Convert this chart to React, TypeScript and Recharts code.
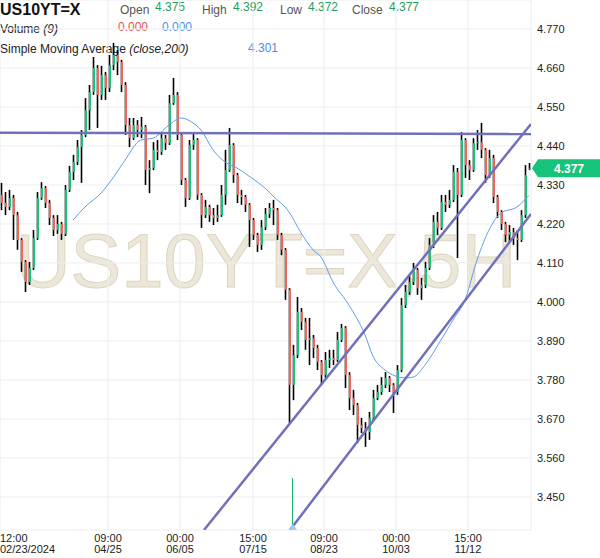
import React from "react";
import {
  ComposedChart,
  Bar,
  Line,
  Scatter,
  XAxis,
  YAxis,
  CartesianGrid,
  ReferenceLine,
} from "recharts";

// 5H candles, US10YT=X (one candle every ~4px)
const opens = [
  4.302, 4.279, 4.268, 4.293, 4.245, 4.175, 4.113, 4.056, 4.096, 4.18,
  4.293, 4.321, 4.279, 4.237, 4.203, 4.22, 4.192, 4.316, 4.367, 4.395,
  4.437, 4.471, 4.541, 4.592, 4.66, 4.584, 4.64, 4.604, 4.668, 4.697,
  4.677, 4.612, 4.499, 4.462, 4.499, 4.485, 4.494, 4.372, 4.378, 4.429,
  4.423, 4.462, 4.448, 4.561, 4.584, 4.471, 4.344, 4.293, 4.443, 4.457,
  4.302, 4.245, 4.268, 4.245, 4.237, 4.245, 4.302, 4.372, 4.443, 4.358,
  4.302, 4.296, 4.274, 4.231, 4.189, 4.161, 4.211, 4.248, 4.265, 4.259,
  4.189, 4.147, 4.034, 3.766, 3.85, 3.972, 3.944, 3.893, 3.898, 3.87,
  3.831, 3.794, 3.836, 3.842, 3.836, 3.893, 3.927, 3.794, 3.729, 3.709,
  3.653, 3.644, 3.633, 3.673, 3.729, 3.746, 3.766, 3.786, 3.766, 3.746,
  3.808, 3.991, 4.028, 4.056, 4.09, 4.039, 4.048, 4.096, 4.161, 4.226,
  4.209, 4.282, 4.274, 4.288, 4.367, 4.302, 4.457, 4.386, 4.372, 4.448,
  4.451, 4.429, 4.358, 4.406, 4.296, 4.254, 4.22, 4.189, 4.197, 4.18,
  4.175, 4.245, 4.375,
];
const highs = [
  4.336, 4.31, 4.316, 4.302, 4.254, 4.18, 4.118, 4.113, 4.203, 4.31,
  4.338, 4.327, 4.288, 4.245, 4.245, 4.226, 4.33, 4.384, 4.415, 4.457,
  4.485, 4.575, 4.612, 4.691, 4.668, 4.666, 4.649, 4.697, 4.731, 4.711,
  4.683, 4.62, 4.519, 4.519, 4.513, 4.522, 4.499, 4.4, 4.451, 4.457,
  4.479, 4.471, 4.584, 4.632, 4.592, 4.477, 4.35, 4.457, 4.477, 4.462,
  4.307, 4.288, 4.274, 4.265, 4.274, 4.33, 4.429, 4.491, 4.448, 4.364,
  4.316, 4.302, 4.279, 4.237, 4.195, 4.231, 4.265, 4.279, 4.288, 4.265,
  4.195, 4.152, 4.039, 3.879, 4.014, 3.983, 3.955, 3.955, 3.907, 3.879,
  3.836, 3.859, 3.865, 3.865, 3.915, 3.938, 3.932, 3.802, 3.752, 3.715,
  3.673, 3.661, 3.69, 3.752, 3.766, 3.788, 3.802, 3.791, 3.771, 3.822,
  4.011, 4.048, 4.076, 4.11, 4.096, 4.068, 4.113, 4.18, 4.245, 4.254,
  4.302, 4.302, 4.316, 4.386, 4.378, 4.479, 4.462, 4.4, 4.462, 4.485,
  4.505, 4.434, 4.429, 4.415, 4.302, 4.259, 4.226, 4.217, 4.209, 4.203,
  4.259, 4.386, 4.392,
];
const lows = [
  4.259, 4.245, 4.259, 4.175, 4.147, 4.085, 4.028, 4.048, 4.09, 4.175,
  4.288, 4.265, 4.217, 4.186, 4.192, 4.175, 4.186, 4.31, 4.344, 4.386,
  4.336, 4.465, 4.485, 4.584, 4.491, 4.57, 4.57, 4.592, 4.654, 4.64,
  4.592, 4.471, 4.437, 4.457, 4.465, 4.462, 4.33, 4.307, 4.372, 4.4,
  4.415, 4.429, 4.443, 4.556, 4.457, 4.33, 4.268, 4.288, 4.429, 4.288,
  4.209, 4.237, 4.226, 4.217, 4.226, 4.24, 4.274, 4.367, 4.336, 4.279,
  4.274, 4.254, 4.155, 4.175, 4.141, 4.147, 4.203, 4.237, 4.217, 4.175,
  4.132, 4.006, 3.659, 3.723, 3.842, 3.921, 3.865, 3.822, 3.842, 3.808,
  3.766, 3.786, 3.814, 3.822, 3.831, 3.887, 3.757, 3.695, 3.681, 3.602,
  3.63, 3.591, 3.611, 3.667, 3.723, 3.738, 3.757, 3.746, 3.687, 3.738,
  3.802, 3.983, 4.02, 4.048, 4.02, 4.006, 4.039, 4.09, 4.152, 4.189,
  4.203, 4.254, 4.265, 4.282, 4.124, 4.296, 4.35, 4.344, 4.367, 4.429,
  4.406, 4.336, 4.35, 4.279, 4.237, 4.203, 4.169, 4.169, 4.161, 4.118,
  4.169, 4.237, 4.372,
];
const closes = [
  4.279, 4.268, 4.293, 4.245, 4.175, 4.113, 4.056, 4.096, 4.18, 4.293,
  4.321, 4.279, 4.237, 4.203, 4.22, 4.192, 4.316, 4.367, 4.395, 4.437,
  4.471, 4.541, 4.592, 4.66, 4.584, 4.64, 4.604, 4.668, 4.697, 4.677,
  4.612, 4.499, 4.462, 4.499, 4.485, 4.494, 4.372, 4.378, 4.429, 4.423,
  4.462, 4.448, 4.561, 4.584, 4.471, 4.344, 4.293, 4.443, 4.457, 4.302,
  4.245, 4.268, 4.245, 4.237, 4.245, 4.302, 4.372, 4.443, 4.358, 4.302,
  4.296, 4.274, 4.231, 4.189, 4.161, 4.211, 4.248, 4.265, 4.259, 4.189,
  4.147, 4.034, 3.766, 3.85, 3.972, 3.944, 3.893, 3.898, 3.87, 3.831,
  3.794, 3.836, 3.842, 3.836, 3.893, 3.927, 3.794, 3.729, 3.709, 3.653,
  3.644, 3.633, 3.673, 3.729, 3.746, 3.766, 3.786, 3.766, 3.746, 3.808,
  3.991, 4.028, 4.056, 4.09, 4.039, 4.048, 4.096, 4.161, 4.226, 4.209,
  4.282, 4.274, 4.288, 4.367, 4.302, 4.457, 4.386, 4.372, 4.448, 4.451,
  4.429, 4.358, 4.406, 4.296, 4.254, 4.22, 4.189, 4.197, 4.18, 4.175,
  4.245, 4.358, 4.377,
];

// SMA(close,200), sampled where it could be read
const smaIdx = [
  18, 21, 25, 28, 31, 35, 38, 42, 45, 48, 50, 53, 56, 59, 62, 66, 68, 72, 75,
  78, 80, 83, 87, 91, 93, 96, 98, 101, 103, 106, 110, 113, 116, 119, 122, 125,
  129, 132,
];
const smaVal = [
  4.231, 4.268, 4.307, 4.35, 4.4, 4.457, 4.462, 4.499, 4.519, 4.505, 4.485,
  4.429, 4.395, 4.378, 4.355, 4.321, 4.299, 4.254, 4.195, 4.147, 4.127, 4.056,
  3.991, 3.907, 3.847, 3.808, 3.794, 3.786, 3.788, 3.822, 3.893, 3.949, 4.006,
  4.118, 4.203, 4.251, 4.268, 4.301,
];

// volume panel: one spike, everything else zero
const volIdx = [72.75];
const volVal = [1];

// hand-drawn trend lines (candle index, price)
const trendLines = [
  { x1: -0.25, y1: 4.4775, x2: 132.5, y2: 4.4738 },
  { x1: 50.75, y1: 3.3567, x2: 132.5, y2: 4.502 },
  { x1: 72.25, y1: 3.3567, x2: 132.5, y2: 4.2481 },
];

const yTicks = [4.77, 4.66, 4.55, 4.44, 4.33, 4.22, 4.11, 4.0, 3.89, 3.78, 3.67, 3.56, 3.45];
const xTickPos = [-0.25, 26.75, 44.75, 63, 80.75, 98.75, 116.75];
const xTickTime = ["12:00", "09:00", "00:00", "15:00", "09:00", "00:00", "15:00"];
const xTickDate = ["02/23/2024", "04/25", "06/05", "07/15", "08/23", "10/03", "11/12"];

const FONT = "'Liberation Sans', Arial, sans-serif";
const GREEN = "#16c37a";
const RED = "#f2665a";
const PLOT_RIGHT = 531;
const PLOT_BOTTOM = 530;

const candles = closes.map((c, i) => {
  const k = smaIdx.indexOf(i);
  return {
    i,
    open: opens[i],
    high: highs[i],
    low: lows[i],
    close: c,
    sma: k >= 0 ? smaVal[k] : null,
  };
});
const volData = volIdx.map((i, k) => ({ i, vol: volVal[k] }));
const last = candles[candles.length - 1];

function Candle(props: any) {
  const { x, y, width, height, payload } = props;
  const top = Math.min(y, y + height);
  const h = Math.abs(height);
  const range = payload.high - payload.low;
  const py = (v: number) => (range === 0 ? top : top + ((payload.high - v) / range) * h);
  const cx = Math.round(x + width / 2);
  const up = payload.close >= payload.open;
  const bTop = py(Math.max(payload.open, payload.close));
  const bBot = py(Math.min(payload.open, payload.close));
  return (
    <g>
      <line x1={cx + 0.5} x2={cx + 0.5} y1={top} y2={top + h} stroke="#000" strokeWidth={1.6} />
      <rect x={cx} y={bTop} width={2} height={Math.max(1, bBot - bTop)} fill={up ? GREEN : RED} />
    </g>
  );
}

function VolSpike(props: any) {
  const { cx, cy } = props;
  if (cx == null || cy == null) return <g />;
  return (
    <g>
      <line x1={cx + 0.5} x2={cx + 0.5} y1={cy} y2={PLOT_BOTTOM} stroke="#14b873" strokeWidth={1} />
      <path d={`M${cx - 3},${PLOT_BOTTOM} L${cx + 1},${PLOT_BOTTOM - 6} L${cx + 5},${PLOT_BOTTOM} Z`} fill="#a8c8f2" />
    </g>
  );
}

function XTick(props: any) {
  const { x, index } = props;
  const first = index === 0;
  return (
    <g fontFamily={FONT} fontSize={11} fill="#222">
      <text x={first ? 0 : x} y={542} textAnchor={first ? "start" : "middle"}>
        {xTickTime[index]}
      </text>
      <text x={first ? 0 : x} y={553} textAnchor={first ? "start" : "middle"}>
        {xTickDate[index]}
      </text>
    </g>
  );
}

function YTick(props: any) {
  const { y, payload } = props;
  return (
    <text x={PLOT_RIGHT + 6} y={y + 4} fontFamily={FONT} fontSize={11} fill="#222">
      {Number(payload.value).toFixed(3)}
    </text>
  );
}

function PriceTag(props: any) {
  const vb = props.viewBox || {};
  const x0 = (vb.x ?? 0) + (vb.width ?? 0) + 1;
  const y = vb.y ?? 0;
  return (
    <g>
      <path d={`M${x0},${y} L${x0 + 6},${y - 9} L600,${y - 9} L600,${y + 9} L${x0 + 6},${y + 9} Z`} fill={GREEN} />
      <text x={569} y={y + 4.5} textAnchor="middle" fontFamily={FONT} fontSize={12} fontWeight="bold" fill="#fff">
        {last.close.toFixed(3)}
      </text>
    </g>
  );
}

export default function App() {
  return (
    <div style={{ position: "absolute", left: 0, top: 0, width: 600, height: 558, background: "#fff" }}>
      <svg width={600} height={558} style={{ position: "absolute", left: 0, top: 0 }}>
        <text x={266} y={287} textAnchor="middle" fontFamily={FONT} fontSize={76} fill="#ece7d9" stroke="#ddd5c1" strokeWidth={1}>
          US10YT=X,5H
        </text>
        <g fontFamily={FONT}>
          <text x={0} y={15} fontSize={16} fontWeight="bold" fill="#111">US10YT=X</text>
          <text x={120} y={14} fontSize={12} fill="#555">Open</text>
          <text x={155} y={11} fontSize={12} fill="#1f9d5f">{opens[opens.length - 1].toFixed(3)}</text>
          <text x={202} y={14} fontSize={12} fill="#555">High</text>
          <text x={233} y={11} fontSize={12} fill="#1f9d5f">{highs[highs.length - 1].toFixed(3)}</text>
          <text x={280} y={14} fontSize={12} fill="#555">Low</text>
          <text x={308} y={11} fontSize={12} fill="#1f9d5f">{lows[lows.length - 1].toFixed(3)}</text>
          <text x={352} y={14} fontSize={12} fill="#555">Close</text>
          <text x={389} y={11} fontSize={12} fill="#1f9d5f">{last.close.toFixed(3)}</text>
          <text x={0} y={33} fontSize={12} fill="#222">
            Volume <tspan fontStyle="italic">(9)</tspan>
          </text>
          <text x={118} y={31} fontSize={12} fill="#e5534b">0.000</text>
          <text x={162} y={31} fontSize={12} fill="#4a8fe7">0.000</text>
          <text x={0} y={53} fontSize={12} fill="#222">
            Simple Moving Average <tspan fontStyle="italic">(close,200)</tspan>
          </text>
          <text x={248} y={52} fontSize={12} fill="#4a8fe7">{smaVal[smaVal.length - 1].toFixed(3)}</text>
        </g>
      </svg>
      <div style={{ position: "absolute", left: 0, top: 0 }}>
        <ComposedChart width={600} height={558} data={candles} margin={{ top: 0, right: 0, bottom: 0, left: 0 }}>
          <CartesianGrid stroke="#ededed" />
          <XAxis
            dataKey="i"
            type="number"
            domain={[-0.25, 132.5]}
            allowDataOverflow
            ticks={xTickPos}
            interval={0}
            height={28}
            axisLine={false}
            tickLine={false}
            tick={<XTick />}
          />
          <YAxis
            orientation="right"
            type="number"
            domain={[3.3567, 4.8518]}
            allowDataOverflow
            ticks={yTicks}
            interval={0}
            width={69}
            axisLine={false}
            tickLine={false}
            tick={<YTick />}
          />
          <YAxis yAxisId="vol" hide domain={[0, 10.2]} allowDataOverflow />
          <Bar
            dataKey={(d: any) => [d.low, d.high]}
            barSize={3}
            shape={<Candle />}
            isAnimationActive={false}
          />
          <Line
            dataKey="sma"
            type="monotone"
            connectNulls
            dot={false}
            stroke="#5e9ef0"
            strokeWidth={1}
            isAnimationActive={false}
          />
          <Scatter
            data={volData}
            dataKey="vol"
            yAxisId="vol"
            shape={<VolSpike />}
            isAnimationActive={false}
          />
          {trendLines.map((t, k) => (
            <ReferenceLine
              key={k}
              segment={[
                { x: t.x1, y: t.y1 },
                { x: t.x2, y: t.y2 },
              ]}
              stroke="#7171b9"
              strokeWidth={2.5}
              ifOverflow="hidden"
            />
          ))}
          <ReferenceLine y={last.close} stroke="none" label={(p: any) => <PriceTag {...p} />} />
        </ComposedChart>
      </div>
    </div>
  );
}
